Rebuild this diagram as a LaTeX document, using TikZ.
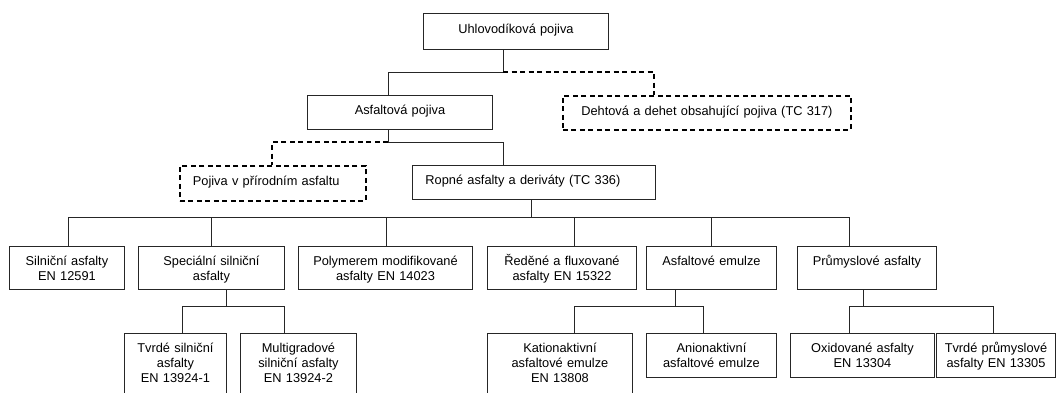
\documentclass[tikz,border=0pt]{standalone}
\usepackage{fontspec}
\setmainfont{Liberation Sans}
\usetikzlibrary{positioning}
\begin{document}
\begin{tikzpicture}[x=1pt,y=-1pt,
  box/.style={draw=black!85,line width=0.9pt,inner sep=0pt,anchor=north west,align=center,font=\fontsize{12.8}{15}\selectfont},
  dbox/.style={box,draw=black,line width=1.8pt,dash pattern=on 5pt off 3.5pt},
  lbox/.style={align=left,inner xsep=13pt},
  one/.style={text height=19.5pt,text depth=14.5pt},
  rowc/.style={text height=19pt,text depth=24pt},
  rowd/.style={text height=19pt,text depth=#1},
  link/.style={black!85,line width=0.9pt,line cap=rect},
  dlink/.style={black,line width=1.5pt,dash pattern=on 5pt off 3.5pt}]
\useasboundingbox (0,0) rectangle (1056,392);
\clip (0,0) rectangle (1056,392);
% levels 1 and 2
\node[box,text width=185pt,text height=20pt,text depth=16pt] (uhl) at (423,13) {Uhlovodíková pojiva};
\node[box,one,text width=185pt] (asf) at (307,95) {Asfaltová pojiva};
\node[dbox,one,text width=288pt] (deh) at (562,95) {Dehtová a dehet obsahující pojiva (TC 317)};
\node[dbox,lbox,text width=160pt,text height=20pt,text depth=15pt] (pri) at (179,165) {Pojiva v přírodním asfaltu};
\node[box,lbox,one,text width=217pt] (rop) at (412,165) {Ropné asfalty a deriváty (TC 336)};
% level 3
\node[box,rowc,text width=115pt] (sil) at (9,246) {Silniční asfalty\\EN 12591};
\node[box,rowc,text width=146pt] (spe) at (138,246) {Speciální silniční\\asfalty};
\node[box,rowc,text width=174pt] (pol) at (298,246) {Polymerem modifikované\\asfalty EN 14023};
\node[box,rowc,text width=149pt] (red) at (487,246) {Ředěné a fluxované\\asfalty EN 15322};
\node[box,rowc,text width=130pt] (emu) at (646,246) {Asfaltové emulze};
\node[box,rowc,text width=139pt] (pru) at (797,246) {Průmyslové asfalty};
% level 4
\node[box,rowd=45pt,text width=102pt] (tsa) at (124,333) {Tvrdé silniční\\asfalty\\EN 13924-1};
\node[box,rowd=45pt,text width=116pt] (mul) at (240,333) {Multigradové\\silniční asfalty\\EN 13924-2};
\node[box,rowd=45pt,text width=145pt] (kat) at (487,333) {Kationaktivní\\asfaltové emulze\\EN 13808};
\node[box,rowd=25pt,text width=130pt] (ani) at (646,333) {Anionaktivní\\asfaltové emulze};
\node[box,rowd=25pt,text width=144pt] (oxi) at (790,333) {Oxidované asfalty\\EN 13304};
\node[box,rowd=25pt,text width=119pt] (tpr) at (936,333) {Tvrdé průmyslové\\asfalty EN 13305};
% connectors
\coordinate (j1) at (503,72); \coordinate (j2) at (388,72); \coordinate (j3) at (654,72);
\draw[link] (j1 |- uhl.south) -- (j1) -- (j2) -- (j2 |- asf.north);
\draw[dlink] (j1) -- (j3) -- (j3 |- deh.north);
\coordinate (j4) at (388,142); \coordinate (j5) at (272,142); \coordinate (j6) at (503,142);
\draw[link] (j4 |- asf.south) -- (j4) -- (j6) -- (j6 |- rop.north);
\draw[dlink] (j4) -- (j5) -- (j5 |- pri.north);
\coordinate (b0) at (531,217);
\draw[link] (b0 |- rop.south) -- (b0);
\foreach \n/\x in {sil/68,spe/211,pol/386,red/574,emu/711,pru/849}
  {\coordinate (t\n) at (\x,217); \draw[link] (t\n) -- (t\n |- \n.north);}
\draw[link] (tsil) -- (tpru);
\foreach \p/\x/\a/\xa/\b/\xb in {spe/226/tsa/182/mul/284,emu/675/kat/574/ani/703,pru/863/oxi/849/tpr/993}
  {\coordinate (s\p) at (\x,306); \coordinate (t\a) at (\xa,306); \coordinate (t\b) at (\xb,306);
   \draw[link] (s\p |- \p.south) -- (s\p);
   \draw[link] (\a.north -| t\a) -- (t\a) -- (t\b) -- (\b.north -| t\b);}
\end{tikzpicture}
\end{document}
